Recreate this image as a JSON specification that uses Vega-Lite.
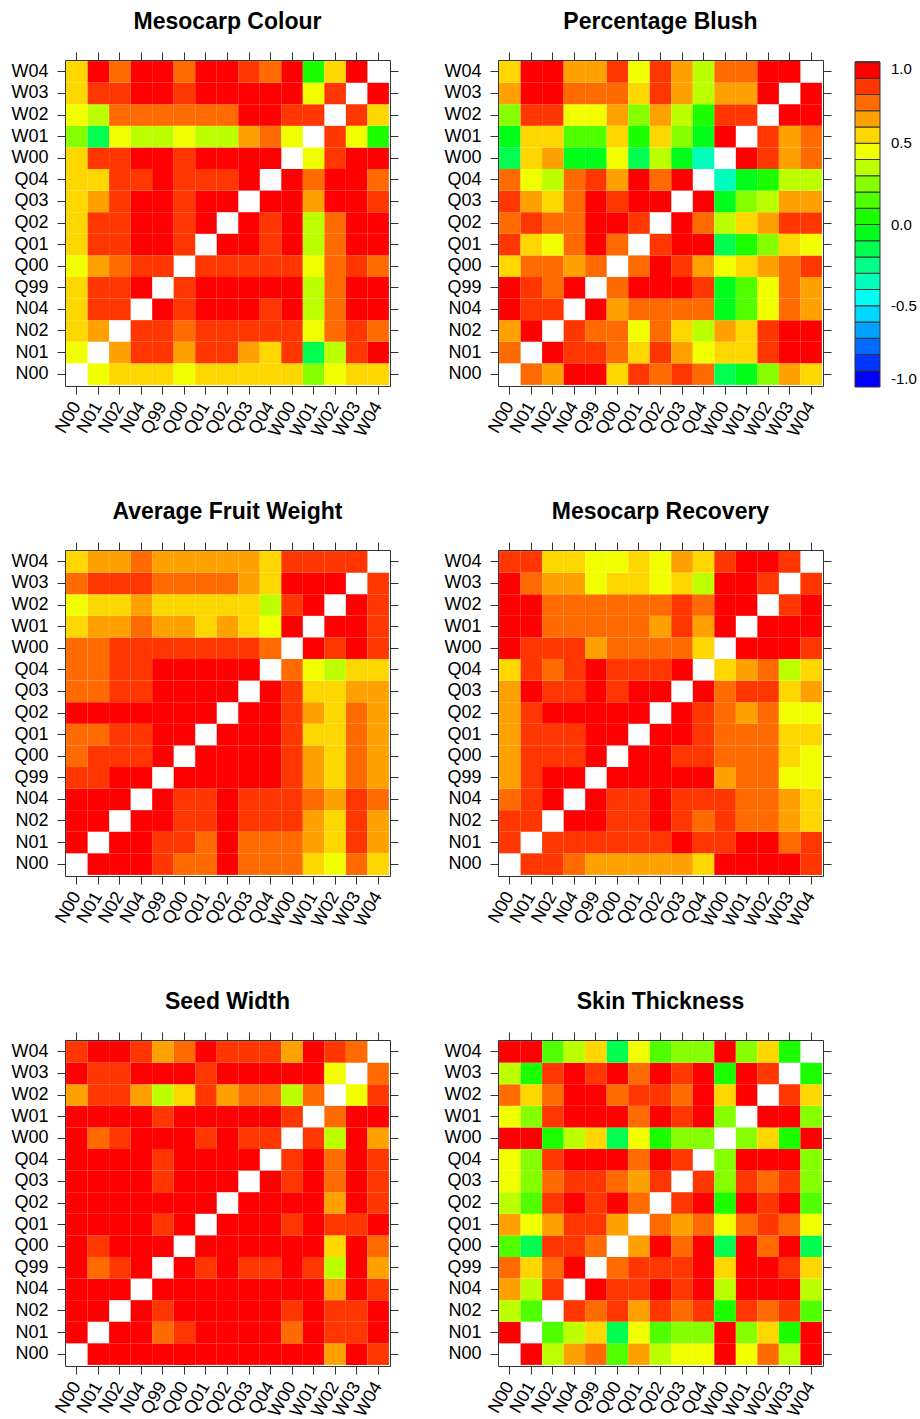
{
"$schema": "https://vega.github.io/schema/vega-lite/v6.json",
"padding": {"left": 10, "top": 10, "right": 5, "bottom": 0},
"background": "white",
"datasets": {
"mc": [
{"a":"N01","b":"N00","v":0.45},
{"a":"N02","b":"N00","v":0.55},{"a":"N02","b":"N01","v":0.65},
{"a":"N04","b":"N00","v":0.55},{"a":"N04","b":"N01","v":0.85},{"a":"N04","b":"N02","v":0.85},
{"a":"Q99","b":"N00","v":0.55},{"a":"Q99","b":"N01","v":0.85},{"a":"Q99","b":"N02","v":0.85},{"a":"Q99","b":"N04","v":0.95},
{"a":"Q00","b":"N00","v":0.45},{"a":"Q00","b":"N01","v":0.65},{"a":"Q00","b":"N02","v":0.75},{"a":"Q00","b":"N04","v":0.85},{"a":"Q00","b":"Q99","v":0.85},
{"a":"Q01","b":"N00","v":0.55},{"a":"Q01","b":"N01","v":0.85},{"a":"Q01","b":"N02","v":0.85},{"a":"Q01","b":"N04","v":0.95},{"a":"Q01","b":"Q99","v":0.95},{"a":"Q01","b":"Q00","v":0.85},
{"a":"Q02","b":"N00","v":0.55},{"a":"Q02","b":"N01","v":0.85},{"a":"Q02","b":"N02","v":0.85},{"a":"Q02","b":"N04","v":0.95},{"a":"Q02","b":"Q99","v":0.95},{"a":"Q02","b":"Q00","v":0.85},{"a":"Q02","b":"Q01","v":0.95},
{"a":"Q03","b":"N00","v":0.55},{"a":"Q03","b":"N01","v":0.65},{"a":"Q03","b":"N02","v":0.85},{"a":"Q03","b":"N04","v":0.95},{"a":"Q03","b":"Q99","v":0.95},{"a":"Q03","b":"Q00","v":0.85},{"a":"Q03","b":"Q01","v":0.95},{"a":"Q03","b":"Q02","v":0.95},
{"a":"Q04","b":"N00","v":0.55},{"a":"Q04","b":"N01","v":0.55},{"a":"Q04","b":"N02","v":0.85},{"a":"Q04","b":"N04","v":0.85},{"a":"Q04","b":"Q99","v":0.95},{"a":"Q04","b":"Q00","v":0.85},{"a":"Q04","b":"Q01","v":0.85},{"a":"Q04","b":"Q02","v":0.85},{"a":"Q04","b":"Q03","v":0.95},
{"a":"W00","b":"N00","v":0.55},{"a":"W00","b":"N01","v":0.85},{"a":"W00","b":"N02","v":0.85},{"a":"W00","b":"N04","v":0.95},{"a":"W00","b":"Q99","v":0.95},{"a":"W00","b":"Q00","v":0.85},{"a":"W00","b":"Q01","v":0.95},{"a":"W00","b":"Q02","v":0.95},{"a":"W00","b":"Q03","v":0.95},{"a":"W00","b":"Q04","v":0.95},
{"a":"W01","b":"N00","v":0.25},{"a":"W01","b":"N01","v":-0.15},{"a":"W01","b":"N02","v":0.45},{"a":"W01","b":"N04","v":0.35},{"a":"W01","b":"Q99","v":0.35},{"a":"W01","b":"Q00","v":0.45},{"a":"W01","b":"Q01","v":0.35},{"a":"W01","b":"Q02","v":0.35},{"a":"W01","b":"Q03","v":0.65},{"a":"W01","b":"Q04","v":0.75},{"a":"W01","b":"W00","v":0.45},
{"a":"W02","b":"N00","v":0.45},{"a":"W02","b":"N01","v":0.35},{"a":"W02","b":"N02","v":0.75},{"a":"W02","b":"N04","v":0.75},{"a":"W02","b":"Q99","v":0.75},{"a":"W02","b":"Q00","v":0.75},{"a":"W02","b":"Q01","v":0.75},{"a":"W02","b":"Q02","v":0.75},{"a":"W02","b":"Q03","v":0.95},{"a":"W02","b":"Q04","v":0.95},{"a":"W02","b":"W00","v":0.85},{"a":"W02","b":"W01","v":0.85},
{"a":"W03","b":"N00","v":0.55},{"a":"W03","b":"N01","v":0.85},{"a":"W03","b":"N02","v":0.85},{"a":"W03","b":"N04","v":0.95},{"a":"W03","b":"Q99","v":0.95},{"a":"W03","b":"Q00","v":0.85},{"a":"W03","b":"Q01","v":0.95},{"a":"W03","b":"Q02","v":0.95},{"a":"W03","b":"Q03","v":0.95},{"a":"W03","b":"Q04","v":0.95},{"a":"W03","b":"W00","v":0.95},{"a":"W03","b":"W01","v":0.45},{"a":"W03","b":"W02","v":0.85},
{"a":"W04","b":"N00","v":0.55},{"a":"W04","b":"N01","v":0.95},{"a":"W04","b":"N02","v":0.75},{"a":"W04","b":"N04","v":0.95},{"a":"W04","b":"Q99","v":0.95},{"a":"W04","b":"Q00","v":0.75},{"a":"W04","b":"Q01","v":0.95},{"a":"W04","b":"Q02","v":0.95},{"a":"W04","b":"Q03","v":0.85},{"a":"W04","b":"Q04","v":0.75},{"a":"W04","b":"W00","v":0.95},{"a":"W04","b":"W01","v":0.05},{"a":"W04","b":"W02","v":0.55},{"a":"W04","b":"W03","v":0.95}
],
"pb": [
{"a":"N01","b":"N00","v":0.75},
{"a":"N02","b":"N00","v":0.65},{"a":"N02","b":"N01","v":0.95},
{"a":"N04","b":"N00","v":0.95},{"a":"N04","b":"N01","v":0.85},{"a":"N04","b":"N02","v":0.85},
{"a":"Q99","b":"N00","v":0.95},{"a":"Q99","b":"N01","v":0.85},{"a":"Q99","b":"N02","v":0.75},{"a":"Q99","b":"N04","v":0.95},
{"a":"Q00","b":"N00","v":0.55},{"a":"Q00","b":"N01","v":0.75},{"a":"Q00","b":"N02","v":0.75},{"a":"Q00","b":"N04","v":0.65},{"a":"Q00","b":"Q99","v":0.75},
{"a":"Q01","b":"N00","v":0.85},{"a":"Q01","b":"N01","v":0.55},{"a":"Q01","b":"N02","v":0.45},{"a":"Q01","b":"N04","v":0.75},{"a":"Q01","b":"Q99","v":0.95},{"a":"Q01","b":"Q00","v":0.75},
{"a":"Q02","b":"N00","v":0.75},{"a":"Q02","b":"N01","v":0.85},{"a":"Q02","b":"N02","v":0.75},{"a":"Q02","b":"N04","v":0.75},{"a":"Q02","b":"Q99","v":0.95},{"a":"Q02","b":"Q00","v":0.95},{"a":"Q02","b":"Q01","v":0.85},
{"a":"Q03","b":"N00","v":0.85},{"a":"Q03","b":"N01","v":0.65},{"a":"Q03","b":"N02","v":0.55},{"a":"Q03","b":"N04","v":0.75},{"a":"Q03","b":"Q99","v":0.95},{"a":"Q03","b":"Q00","v":0.85},{"a":"Q03","b":"Q01","v":0.95},{"a":"Q03","b":"Q02","v":0.95},
{"a":"Q04","b":"N00","v":0.75},{"a":"Q04","b":"N01","v":0.45},{"a":"Q04","b":"N02","v":0.35},{"a":"Q04","b":"N04","v":0.75},{"a":"Q04","b":"Q99","v":0.85},{"a":"Q04","b":"Q00","v":0.65},{"a":"Q04","b":"Q01","v":0.95},{"a":"Q04","b":"Q02","v":0.75},{"a":"Q04","b":"Q03","v":0.95},
{"a":"W00","b":"N00","v":-0.15},{"a":"W00","b":"N01","v":0.55},{"a":"W00","b":"N02","v":0.65},{"a":"W00","b":"N04","v":-0.05},{"a":"W00","b":"Q99","v":-0.05},{"a":"W00","b":"Q00","v":0.45},{"a":"W00","b":"Q01","v":-0.15},{"a":"W00","b":"Q02","v":0.35},{"a":"W00","b":"Q03","v":-0.05},{"a":"W00","b":"Q04","v":-0.35},
{"a":"W01","b":"N00","v":-0.05},{"a":"W01","b":"N01","v":0.55},{"a":"W01","b":"N02","v":0.55},{"a":"W01","b":"N04","v":0.15},{"a":"W01","b":"Q99","v":0.15},{"a":"W01","b":"Q00","v":0.55},{"a":"W01","b":"Q01","v":0.05},{"a":"W01","b":"Q02","v":0.55},{"a":"W01","b":"Q03","v":0.25},{"a":"W01","b":"Q04","v":-0.05},{"a":"W01","b":"W00","v":0.95},
{"a":"W02","b":"N00","v":0.25},{"a":"W02","b":"N01","v":0.85},{"a":"W02","b":"N02","v":0.85},{"a":"W02","b":"N04","v":0.45},{"a":"W02","b":"Q99","v":0.45},{"a":"W02","b":"Q00","v":0.65},{"a":"W02","b":"Q01","v":0.25},{"a":"W02","b":"Q02","v":0.65},{"a":"W02","b":"Q03","v":0.35},{"a":"W02","b":"Q04","v":0.05},{"a":"W02","b":"W00","v":0.85},{"a":"W02","b":"W01","v":0.85},
{"a":"W03","b":"N00","v":0.65},{"a":"W03","b":"N01","v":0.95},{"a":"W03","b":"N02","v":0.95},{"a":"W03","b":"N04","v":0.75},{"a":"W03","b":"Q99","v":0.75},{"a":"W03","b":"Q00","v":0.75},{"a":"W03","b":"Q01","v":0.55},{"a":"W03","b":"Q02","v":0.85},{"a":"W03","b":"Q03","v":0.65},{"a":"W03","b":"Q04","v":0.35},{"a":"W03","b":"W00","v":0.65},{"a":"W03","b":"W01","v":0.65},{"a":"W03","b":"W02","v":0.95},
{"a":"W04","b":"N00","v":0.55},{"a":"W04","b":"N01","v":0.95},{"a":"W04","b":"N02","v":0.95},{"a":"W04","b":"N04","v":0.65},{"a":"W04","b":"Q99","v":0.65},{"a":"W04","b":"Q00","v":0.85},{"a":"W04","b":"Q01","v":0.45},{"a":"W04","b":"Q02","v":0.85},{"a":"W04","b":"Q03","v":0.65},{"a":"W04","b":"Q04","v":0.35},{"a":"W04","b":"W00","v":0.75},{"a":"W04","b":"W01","v":0.75},{"a":"W04","b":"W02","v":0.95},{"a":"W04","b":"W03","v":0.95}
],
"afw": [
{"a":"N01","b":"N00","v":0.95},
{"a":"N02","b":"N00","v":0.95},{"a":"N02","b":"N01","v":0.95},
{"a":"N04","b":"N00","v":0.95},{"a":"N04","b":"N01","v":0.95},{"a":"N04","b":"N02","v":0.95},
{"a":"Q99","b":"N00","v":0.85},{"a":"Q99","b":"N01","v":0.85},{"a":"Q99","b":"N02","v":0.95},{"a":"Q99","b":"N04","v":0.95},
{"a":"Q00","b":"N00","v":0.75},{"a":"Q00","b":"N01","v":0.85},{"a":"Q00","b":"N02","v":0.85},{"a":"Q00","b":"N04","v":0.85},{"a":"Q00","b":"Q99","v":0.95},
{"a":"Q01","b":"N00","v":0.75},{"a":"Q01","b":"N01","v":0.75},{"a":"Q01","b":"N02","v":0.85},{"a":"Q01","b":"N04","v":0.85},{"a":"Q01","b":"Q99","v":0.95},{"a":"Q01","b":"Q00","v":0.95},
{"a":"Q02","b":"N00","v":0.95},{"a":"Q02","b":"N01","v":0.95},{"a":"Q02","b":"N02","v":0.95},{"a":"Q02","b":"N04","v":0.95},{"a":"Q02","b":"Q99","v":0.95},{"a":"Q02","b":"Q00","v":0.95},{"a":"Q02","b":"Q01","v":0.95},
{"a":"Q03","b":"N00","v":0.75},{"a":"Q03","b":"N01","v":0.75},{"a":"Q03","b":"N02","v":0.85},{"a":"Q03","b":"N04","v":0.85},{"a":"Q03","b":"Q99","v":0.95},{"a":"Q03","b":"Q00","v":0.95},{"a":"Q03","b":"Q01","v":0.95},{"a":"Q03","b":"Q02","v":0.95},
{"a":"Q04","b":"N00","v":0.75},{"a":"Q04","b":"N01","v":0.75},{"a":"Q04","b":"N02","v":0.85},{"a":"Q04","b":"N04","v":0.85},{"a":"Q04","b":"Q99","v":0.95},{"a":"Q04","b":"Q00","v":0.95},{"a":"Q04","b":"Q01","v":0.95},{"a":"Q04","b":"Q02","v":0.95},{"a":"Q04","b":"Q03","v":0.95},
{"a":"W00","b":"N00","v":0.75},{"a":"W00","b":"N01","v":0.75},{"a":"W00","b":"N02","v":0.85},{"a":"W00","b":"N04","v":0.85},{"a":"W00","b":"Q99","v":0.85},{"a":"W00","b":"Q00","v":0.85},{"a":"W00","b":"Q01","v":0.85},{"a":"W00","b":"Q02","v":0.85},{"a":"W00","b":"Q03","v":0.85},{"a":"W00","b":"Q04","v":0.75},
{"a":"W01","b":"N00","v":0.55},{"a":"W01","b":"N01","v":0.65},{"a":"W01","b":"N02","v":0.65},{"a":"W01","b":"N04","v":0.75},{"a":"W01","b":"Q99","v":0.65},{"a":"W01","b":"Q00","v":0.65},{"a":"W01","b":"Q01","v":0.55},{"a":"W01","b":"Q02","v":0.65},{"a":"W01","b":"Q03","v":0.55},{"a":"W01","b":"Q04","v":0.45},{"a":"W01","b":"W00","v":0.95},
{"a":"W02","b":"N00","v":0.45},{"a":"W02","b":"N01","v":0.55},{"a":"W02","b":"N02","v":0.55},{"a":"W02","b":"N04","v":0.65},{"a":"W02","b":"Q99","v":0.55},{"a":"W02","b":"Q00","v":0.55},{"a":"W02","b":"Q01","v":0.55},{"a":"W02","b":"Q02","v":0.55},{"a":"W02","b":"Q03","v":0.55},{"a":"W02","b":"Q04","v":0.35},{"a":"W02","b":"W00","v":0.85},{"a":"W02","b":"W01","v":0.95},
{"a":"W03","b":"N00","v":0.75},{"a":"W03","b":"N01","v":0.85},{"a":"W03","b":"N02","v":0.85},{"a":"W03","b":"N04","v":0.85},{"a":"W03","b":"Q99","v":0.75},{"a":"W03","b":"Q00","v":0.75},{"a":"W03","b":"Q01","v":0.75},{"a":"W03","b":"Q02","v":0.75},{"a":"W03","b":"Q03","v":0.65},{"a":"W03","b":"Q04","v":0.55},{"a":"W03","b":"W00","v":0.95},{"a":"W03","b":"W01","v":0.95},{"a":"W03","b":"W02","v":0.95},
{"a":"W04","b":"N00","v":0.55},{"a":"W04","b":"N01","v":0.65},{"a":"W04","b":"N02","v":0.65},{"a":"W04","b":"N04","v":0.75},{"a":"W04","b":"Q99","v":0.65},{"a":"W04","b":"Q00","v":0.65},{"a":"W04","b":"Q01","v":0.65},{"a":"W04","b":"Q02","v":0.65},{"a":"W04","b":"Q03","v":0.65},{"a":"W04","b":"Q04","v":0.55},{"a":"W04","b":"W00","v":0.85},{"a":"W04","b":"W01","v":0.85},{"a":"W04","b":"W02","v":0.85},{"a":"W04","b":"W03","v":0.85}
],
"mr": [
{"a":"N01","b":"N00","v":0.85},
{"a":"N02","b":"N00","v":0.85},{"a":"N02","b":"N01","v":0.85},
{"a":"N04","b":"N00","v":0.75},{"a":"N04","b":"N01","v":0.85},{"a":"N04","b":"N02","v":0.95},
{"a":"Q99","b":"N00","v":0.65},{"a":"Q99","b":"N01","v":0.85},{"a":"Q99","b":"N02","v":0.95},{"a":"Q99","b":"N04","v":0.95},
{"a":"Q00","b":"N00","v":0.65},{"a":"Q00","b":"N01","v":0.85},{"a":"Q00","b":"N02","v":0.85},{"a":"Q00","b":"N04","v":0.85},{"a":"Q00","b":"Q99","v":0.95},
{"a":"Q01","b":"N00","v":0.65},{"a":"Q01","b":"N01","v":0.85},{"a":"Q01","b":"N02","v":0.85},{"a":"Q01","b":"N04","v":0.85},{"a":"Q01","b":"Q99","v":0.95},{"a":"Q01","b":"Q00","v":0.95},
{"a":"Q02","b":"N00","v":0.65},{"a":"Q02","b":"N01","v":0.85},{"a":"Q02","b":"N02","v":0.95},{"a":"Q02","b":"N04","v":0.95},{"a":"Q02","b":"Q99","v":0.95},{"a":"Q02","b":"Q00","v":0.95},{"a":"Q02","b":"Q01","v":0.95},
{"a":"Q03","b":"N00","v":0.65},{"a":"Q03","b":"N01","v":0.95},{"a":"Q03","b":"N02","v":0.85},{"a":"Q03","b":"N04","v":0.85},{"a":"Q03","b":"Q99","v":0.95},{"a":"Q03","b":"Q00","v":0.85},{"a":"Q03","b":"Q01","v":0.95},{"a":"Q03","b":"Q02","v":0.95},
{"a":"Q04","b":"N00","v":0.55},{"a":"Q04","b":"N01","v":0.85},{"a":"Q04","b":"N02","v":0.75},{"a":"Q04","b":"N04","v":0.85},{"a":"Q04","b":"Q99","v":0.95},{"a":"Q04","b":"Q00","v":0.85},{"a":"Q04","b":"Q01","v":0.85},{"a":"Q04","b":"Q02","v":0.85},{"a":"Q04","b":"Q03","v":0.95},
{"a":"W00","b":"N00","v":0.95},{"a":"W00","b":"N01","v":0.85},{"a":"W00","b":"N02","v":0.85},{"a":"W00","b":"N04","v":0.85},{"a":"W00","b":"Q99","v":0.65},{"a":"W00","b":"Q00","v":0.75},{"a":"W00","b":"Q01","v":0.75},{"a":"W00","b":"Q02","v":0.75},{"a":"W00","b":"Q03","v":0.75},{"a":"W00","b":"Q04","v":0.55},
{"a":"W01","b":"N00","v":0.95},{"a":"W01","b":"N01","v":0.95},{"a":"W01","b":"N02","v":0.75},{"a":"W01","b":"N04","v":0.75},{"a":"W01","b":"Q99","v":0.75},{"a":"W01","b":"Q00","v":0.75},{"a":"W01","b":"Q01","v":0.75},{"a":"W01","b":"Q02","v":0.65},{"a":"W01","b":"Q03","v":0.85},{"a":"W01","b":"Q04","v":0.65},{"a":"W01","b":"W00","v":0.95},
{"a":"W02","b":"N00","v":0.95},{"a":"W02","b":"N01","v":0.95},{"a":"W02","b":"N02","v":0.75},{"a":"W02","b":"N04","v":0.75},{"a":"W02","b":"Q99","v":0.75},{"a":"W02","b":"Q00","v":0.75},{"a":"W02","b":"Q01","v":0.75},{"a":"W02","b":"Q02","v":0.75},{"a":"W02","b":"Q03","v":0.85},{"a":"W02","b":"Q04","v":0.75},{"a":"W02","b":"W00","v":0.95},{"a":"W02","b":"W01","v":0.95},
{"a":"W03","b":"N00","v":0.95},{"a":"W03","b":"N01","v":0.75},{"a":"W03","b":"N02","v":0.65},{"a":"W03","b":"N04","v":0.65},{"a":"W03","b":"Q99","v":0.45},{"a":"W03","b":"Q00","v":0.55},{"a":"W03","b":"Q01","v":0.55},{"a":"W03","b":"Q02","v":0.45},{"a":"W03","b":"Q03","v":0.55},{"a":"W03","b":"Q04","v":0.35},{"a":"W03","b":"W00","v":0.95},{"a":"W03","b":"W01","v":0.95},{"a":"W03","b":"W02","v":0.85},
{"a":"W04","b":"N00","v":0.85},{"a":"W04","b":"N01","v":0.85},{"a":"W04","b":"N02","v":0.55},{"a":"W04","b":"N04","v":0.55},{"a":"W04","b":"Q99","v":0.45},{"a":"W04","b":"Q00","v":0.45},{"a":"W04","b":"Q01","v":0.55},{"a":"W04","b":"Q02","v":0.45},{"a":"W04","b":"Q03","v":0.65},{"a":"W04","b":"Q04","v":0.55},{"a":"W04","b":"W00","v":0.85},{"a":"W04","b":"W01","v":0.95},{"a":"W04","b":"W02","v":0.95},{"a":"W04","b":"W03","v":0.85}
],
"sw": [
{"a":"N01","b":"N00","v":0.95},
{"a":"N02","b":"N00","v":0.95},{"a":"N02","b":"N01","v":0.95},
{"a":"N04","b":"N00","v":0.95},{"a":"N04","b":"N01","v":0.95},{"a":"N04","b":"N02","v":0.95},
{"a":"Q99","b":"N00","v":0.95},{"a":"Q99","b":"N01","v":0.75},{"a":"Q99","b":"N02","v":0.85},{"a":"Q99","b":"N04","v":0.95},
{"a":"Q00","b":"N00","v":0.95},{"a":"Q00","b":"N01","v":0.85},{"a":"Q00","b":"N02","v":0.95},{"a":"Q00","b":"N04","v":0.95},{"a":"Q00","b":"Q99","v":0.95},
{"a":"Q01","b":"N00","v":0.95},{"a":"Q01","b":"N01","v":0.95},{"a":"Q01","b":"N02","v":0.95},{"a":"Q01","b":"N04","v":0.95},{"a":"Q01","b":"Q99","v":0.85},{"a":"Q01","b":"Q00","v":0.95},
{"a":"Q02","b":"N00","v":0.95},{"a":"Q02","b":"N01","v":0.95},{"a":"Q02","b":"N02","v":0.95},{"a":"Q02","b":"N04","v":0.95},{"a":"Q02","b":"Q99","v":0.95},{"a":"Q02","b":"Q00","v":0.95},{"a":"Q02","b":"Q01","v":0.95},
{"a":"Q03","b":"N00","v":0.95},{"a":"Q03","b":"N01","v":0.95},{"a":"Q03","b":"N02","v":0.95},{"a":"Q03","b":"N04","v":0.95},{"a":"Q03","b":"Q99","v":0.85},{"a":"Q03","b":"Q00","v":0.95},{"a":"Q03","b":"Q01","v":0.95},{"a":"Q03","b":"Q02","v":0.95},
{"a":"Q04","b":"N00","v":0.95},{"a":"Q04","b":"N01","v":0.95},{"a":"Q04","b":"N02","v":0.95},{"a":"Q04","b":"N04","v":0.95},{"a":"Q04","b":"Q99","v":0.85},{"a":"Q04","b":"Q00","v":0.95},{"a":"Q04","b":"Q01","v":0.95},{"a":"Q04","b":"Q02","v":0.95},{"a":"Q04","b":"Q03","v":0.95},
{"a":"W00","b":"N00","v":0.95},{"a":"W00","b":"N01","v":0.75},{"a":"W00","b":"N02","v":0.85},{"a":"W00","b":"N04","v":0.95},{"a":"W00","b":"Q99","v":0.95},{"a":"W00","b":"Q00","v":0.95},{"a":"W00","b":"Q01","v":0.85},{"a":"W00","b":"Q02","v":0.95},{"a":"W00","b":"Q03","v":0.85},{"a":"W00","b":"Q04","v":0.85},
{"a":"W01","b":"N00","v":0.95},{"a":"W01","b":"N01","v":0.95},{"a":"W01","b":"N02","v":0.95},{"a":"W01","b":"N04","v":0.95},{"a":"W01","b":"Q99","v":0.85},{"a":"W01","b":"Q00","v":0.95},{"a":"W01","b":"Q01","v":0.95},{"a":"W01","b":"Q02","v":0.95},{"a":"W01","b":"Q03","v":0.95},{"a":"W01","b":"Q04","v":0.95},{"a":"W01","b":"W00","v":0.85},
{"a":"W02","b":"N00","v":0.65},{"a":"W02","b":"N01","v":0.85},{"a":"W02","b":"N02","v":0.85},{"a":"W02","b":"N04","v":0.65},{"a":"W02","b":"Q99","v":0.35},{"a":"W02","b":"Q00","v":0.55},{"a":"W02","b":"Q01","v":0.85},{"a":"W02","b":"Q02","v":0.65},{"a":"W02","b":"Q03","v":0.75},{"a":"W02","b":"Q04","v":0.75},{"a":"W02","b":"W00","v":0.35},{"a":"W02","b":"W01","v":0.75},
{"a":"W03","b":"N00","v":0.95},{"a":"W03","b":"N01","v":0.85},{"a":"W03","b":"N02","v":0.85},{"a":"W03","b":"N04","v":0.95},{"a":"W03","b":"Q99","v":0.95},{"a":"W03","b":"Q00","v":0.95},{"a":"W03","b":"Q01","v":0.85},{"a":"W03","b":"Q02","v":0.95},{"a":"W03","b":"Q03","v":0.95},{"a":"W03","b":"Q04","v":0.95},{"a":"W03","b":"W00","v":0.95},{"a":"W03","b":"W01","v":0.95},{"a":"W03","b":"W02","v":0.45},
{"a":"W04","b":"N00","v":0.85},{"a":"W04","b":"N01","v":0.95},{"a":"W04","b":"N02","v":0.95},{"a":"W04","b":"N04","v":0.85},{"a":"W04","b":"Q99","v":0.65},{"a":"W04","b":"Q00","v":0.75},{"a":"W04","b":"Q01","v":0.95},{"a":"W04","b":"Q02","v":0.85},{"a":"W04","b":"Q03","v":0.85},{"a":"W04","b":"Q04","v":0.85},{"a":"W04","b":"W00","v":0.65},{"a":"W04","b":"W01","v":0.95},{"a":"W04","b":"W02","v":0.85},{"a":"W04","b":"W03","v":0.75}
],
"st": [
{"a":"N01","b":"N00","v":0.95},
{"a":"N02","b":"N00","v":0.35},{"a":"N02","b":"N01","v":0.15},
{"a":"N04","b":"N00","v":0.65},{"a":"N04","b":"N01","v":0.35},{"a":"N04","b":"N02","v":0.85},
{"a":"Q99","b":"N00","v":0.75},{"a":"Q99","b":"N01","v":0.55},{"a":"Q99","b":"N02","v":0.75},{"a":"Q99","b":"N04","v":0.95},
{"a":"Q00","b":"N00","v":0.15},{"a":"Q00","b":"N01","v":-0.15},{"a":"Q00","b":"N02","v":0.85},{"a":"Q00","b":"N04","v":0.85},{"a":"Q00","b":"Q99","v":0.75},
{"a":"Q01","b":"N00","v":0.65},{"a":"Q01","b":"N01","v":0.45},{"a":"Q01","b":"N02","v":0.65},{"a":"Q01","b":"N04","v":0.85},{"a":"Q01","b":"Q99","v":0.85},{"a":"Q01","b":"Q00","v":0.65},
{"a":"Q02","b":"N00","v":0.35},{"a":"Q02","b":"N01","v":0.15},{"a":"Q02","b":"N02","v":0.85},{"a":"Q02","b":"N04","v":0.95},{"a":"Q02","b":"Q99","v":0.85},{"a":"Q02","b":"Q00","v":0.95},{"a":"Q02","b":"Q01","v":0.75},
{"a":"Q03","b":"N00","v":0.45},{"a":"Q03","b":"N01","v":0.25},{"a":"Q03","b":"N02","v":0.75},{"a":"Q03","b":"N04","v":0.85},{"a":"Q03","b":"Q99","v":0.85},{"a":"Q03","b":"Q00","v":0.75},{"a":"Q03","b":"Q01","v":0.65},{"a":"Q03","b":"Q02","v":0.85},
{"a":"Q04","b":"N00","v":0.45},{"a":"Q04","b":"N01","v":0.25},{"a":"Q04","b":"N02","v":0.85},{"a":"Q04","b":"N04","v":0.95},{"a":"Q04","b":"Q99","v":0.95},{"a":"Q04","b":"Q00","v":0.95},{"a":"Q04","b":"Q01","v":0.75},{"a":"Q04","b":"Q02","v":0.95},{"a":"Q04","b":"Q03","v":0.85},
{"a":"W00","b":"N00","v":0.95},{"a":"W00","b":"N01","v":0.95},{"a":"W00","b":"N02","v":0.05},{"a":"W00","b":"N04","v":0.35},{"a":"W00","b":"Q99","v":0.55},{"a":"W00","b":"Q00","v":-0.15},{"a":"W00","b":"Q01","v":0.45},{"a":"W00","b":"Q02","v":0.05},{"a":"W00","b":"Q03","v":0.25},{"a":"W00","b":"Q04","v":0.25},
{"a":"W01","b":"N00","v":0.45},{"a":"W01","b":"N01","v":0.25},{"a":"W01","b":"N02","v":0.85},{"a":"W01","b":"N04","v":0.95},{"a":"W01","b":"Q99","v":0.95},{"a":"W01","b":"Q00","v":0.95},{"a":"W01","b":"Q01","v":0.75},{"a":"W01","b":"Q02","v":0.95},{"a":"W01","b":"Q03","v":0.85},{"a":"W01","b":"Q04","v":0.95},{"a":"W01","b":"W00","v":0.25},
{"a":"W02","b":"N00","v":0.75},{"a":"W02","b":"N01","v":0.55},{"a":"W02","b":"N02","v":0.75},{"a":"W02","b":"N04","v":0.95},{"a":"W02","b":"Q99","v":0.95},{"a":"W02","b":"Q00","v":0.75},{"a":"W02","b":"Q01","v":0.85},{"a":"W02","b":"Q02","v":0.85},{"a":"W02","b":"Q03","v":0.75},{"a":"W02","b":"Q04","v":0.95},{"a":"W02","b":"W00","v":0.55},{"a":"W02","b":"W01","v":0.95},
{"a":"W03","b":"N00","v":0.35},{"a":"W03","b":"N01","v":0.05},{"a":"W03","b":"N02","v":0.85},{"a":"W03","b":"N04","v":0.95},{"a":"W03","b":"Q99","v":0.85},{"a":"W03","b":"Q00","v":0.95},{"a":"W03","b":"Q01","v":0.75},{"a":"W03","b":"Q02","v":0.95},{"a":"W03","b":"Q03","v":0.85},{"a":"W03","b":"Q04","v":0.95},{"a":"W03","b":"W00","v":0.05},{"a":"W03","b":"W01","v":0.95},{"a":"W03","b":"W02","v":0.85},
{"a":"W04","b":"N00","v":0.95},{"a":"W04","b":"N01","v":0.95},{"a":"W04","b":"N02","v":0.15},{"a":"W04","b":"N04","v":0.35},{"a":"W04","b":"Q99","v":0.55},{"a":"W04","b":"Q00","v":-0.15},{"a":"W04","b":"Q01","v":0.45},{"a":"W04","b":"Q02","v":0.15},{"a":"W04","b":"Q03","v":0.25},{"a":"W04","b":"Q04","v":0.25},{"a":"W04","b":"W00","v":0.95},{"a":"W04","b":"W01","v":0.25},{"a":"W04","b":"W02","v":0.55},{"a":"W04","b":"W03","v":0.05}
]
},
"config": {
  "font": "Liberation Sans",
  "view": {"stroke": "#333333", "strokeWidth": 1},
  "title": {"font": "Liberation Sans", "fontSize": 23, "fontWeight": "bold", "color": "black", "anchor": "middle", "frame": "group", "baseline": "alphabetic", "offset": 18},
  "axis": {"labelFont": "Liberation Sans", "labelFontSize": 18, "labelColor": "black", "tickColor": "#333333", "tickSize": 8, "tickWidth": 1, "domain": false, "grid": false, "labelPadding": 9, "labelOverlap": false},
  "axisBottom": {"labelAngle": -60, "labelAlign": "right", "labelBaseline": "middle"},
  "legend": {"labelFont": "Liberation Sans"}
},
"spacing": 59,
"vconcat": [
 {"spacing": 44, "hconcat": [
  {"width": 325, "height": 326, "title": {"text": "Mesocarp Colour"}, "data": {"name": "mc"},
   "resolve": {"axis": {"x": "independent", "y": "independent"}},
   "layer": [
    {"mark": {"type": "rect"}, "encoding": {
      "x": {"field": "b", "type": "nominal", "scale": {"domain": ["N00","N01","N02","N04","Q99","Q00","Q01","Q02","Q03","Q04","W00","W01","W02","W03","W04"], "paddingInner": 0, "paddingOuter": 0.05}, "axis": {"orient": "bottom", "title": null}},
      "y": {"field": "a", "type": "nominal", "scale": {"domain": ["W04","W03","W02","W01","W00","Q04","Q03","Q02","Q01","Q00","Q99","N04","N02","N01","N00"], "paddingInner": 0, "paddingOuter": 0.05}, "axis": {"orient": "left", "title": null}},
      "color": {"field": "v", "type": "quantitative", "scale": {"type": "quantize", "domain": [-1, 1], "range": ["#0000FF","#0036FF","#006BFF","#00A1FF","#00D7FF","#00FFF2","#00FFBC","#00FF86","#00FF50","#00FF1B","#1BFF00","#50FF00","#86FF00","#BCFF00","#F2FF00","#FFD700","#FFA100","#FF6B00","#FF3600","#FF0000"]}, "legend": {"type": "gradient", "title": null, "orient": "none", "legendX": 790, "legendY": 2, "direction": "vertical", "gradientLength": 325, "gradientThickness": 25, "gradientStrokeColor": "#333333", "gradientStrokeWidth": 1, "values": [-1,-0.9,-0.8,-0.7,-0.6,-0.5,-0.4,-0.3,-0.2,-0.1,0,0.1,0.2,0.3,0.4,0.5,0.6,0.7,0.8,0.9,1], "labelFontSize": 15, "labelColor": "black", "labelOffset": 11, "labelBaseline": "middle", "labelOverlap": false, "labelExpr": "abs(datum.value * 2 - round(datum.value * 2)) < 0.001 ? (datum.value < -0.001 ? '-' + format(-datum.value, '.1f') : format(abs(datum.value), '.1f')) : ''"}}
    }},
    {"mark": {"type": "rect"}, "encoding": {
      "x": {"field": "a", "type": "nominal", "scale": {"domain": ["N00","N01","N02","N04","Q99","Q00","Q01","Q02","Q03","Q04","W00","W01","W02","W03","W04"], "paddingInner": 0, "paddingOuter": 0.05}, "axis": {"orient": "top", "labels": false, "title": null}},
      "y": {"field": "b", "type": "nominal", "scale": {"domain": ["W04","W03","W02","W01","W00","Q04","Q03","Q02","Q01","Q00","Q99","N04","N02","N01","N00"], "paddingInner": 0, "paddingOuter": 0.05}, "axis": {"orient": "right", "labels": false, "title": null}},
      "color": {"field": "v", "type": "quantitative", "scale": {"type": "quantize", "domain": [-1, 1], "range": ["#0000FF","#0036FF","#006BFF","#00A1FF","#00D7FF","#00FFF2","#00FFBC","#00FF86","#00FF50","#00FF1B","#1BFF00","#50FF00","#86FF00","#BCFF00","#F2FF00","#FFD700","#FFA100","#FF6B00","#FF3600","#FF0000"]}, "legend": {"type": "gradient", "title": null, "orient": "none", "legendX": 790, "legendY": 2, "direction": "vertical", "gradientLength": 325, "gradientThickness": 25, "gradientStrokeColor": "#333333", "gradientStrokeWidth": 1, "values": [-1,-0.9,-0.8,-0.7,-0.6,-0.5,-0.4,-0.3,-0.2,-0.1,0,0.1,0.2,0.3,0.4,0.5,0.6,0.7,0.8,0.9,1], "labelFontSize": 15, "labelColor": "black", "labelOffset": 11, "labelBaseline": "middle", "labelOverlap": false, "labelExpr": "abs(datum.value * 2 - round(datum.value * 2)) < 0.001 ? (datum.value < -0.001 ? '-' + format(-datum.value, '.1f') : format(abs(datum.value), '.1f')) : ''"}}
    }}
   ]},
  {"width": 325, "height": 326, "title": {"text": "Percentage Blush"}, "data": {"name": "pb"},
   "resolve": {"axis": {"x": "independent", "y": "independent"}},
   "layer": [
    {"mark": {"type": "rect"}, "encoding": {
      "x": {"field": "b", "type": "nominal", "scale": {"domain": ["N00","N01","N02","N04","Q99","Q00","Q01","Q02","Q03","Q04","W00","W01","W02","W03","W04"], "paddingInner": 0, "paddingOuter": 0.05}, "axis": {"orient": "bottom", "title": null}},
      "y": {"field": "a", "type": "nominal", "scale": {"domain": ["W04","W03","W02","W01","W00","Q04","Q03","Q02","Q01","Q00","Q99","N04","N02","N01","N00"], "paddingInner": 0, "paddingOuter": 0.05}, "axis": {"orient": "left", "title": null}},
      "color": {"field": "v", "type": "quantitative", "scale": {"type": "quantize", "domain": [-1, 1], "range": ["#0000FF","#0036FF","#006BFF","#00A1FF","#00D7FF","#00FFF2","#00FFBC","#00FF86","#00FF50","#00FF1B","#1BFF00","#50FF00","#86FF00","#BCFF00","#F2FF00","#FFD700","#FFA100","#FF6B00","#FF3600","#FF0000"]}, "legend": {"type": "gradient", "title": null, "orient": "none", "legendX": 790, "legendY": 2, "direction": "vertical", "gradientLength": 325, "gradientThickness": 25, "gradientStrokeColor": "#333333", "gradientStrokeWidth": 1, "values": [-1,-0.9,-0.8,-0.7,-0.6,-0.5,-0.4,-0.3,-0.2,-0.1,0,0.1,0.2,0.3,0.4,0.5,0.6,0.7,0.8,0.9,1], "labelFontSize": 15, "labelColor": "black", "labelOffset": 11, "labelBaseline": "middle", "labelOverlap": false, "labelExpr": "abs(datum.value * 2 - round(datum.value * 2)) < 0.001 ? (datum.value < -0.001 ? '-' + format(-datum.value, '.1f') : format(abs(datum.value), '.1f')) : ''"}}
    }},
    {"mark": {"type": "rect"}, "encoding": {
      "x": {"field": "a", "type": "nominal", "scale": {"domain": ["N00","N01","N02","N04","Q99","Q00","Q01","Q02","Q03","Q04","W00","W01","W02","W03","W04"], "paddingInner": 0, "paddingOuter": 0.05}, "axis": {"orient": "top", "labels": false, "title": null}},
      "y": {"field": "b", "type": "nominal", "scale": {"domain": ["W04","W03","W02","W01","W00","Q04","Q03","Q02","Q01","Q00","Q99","N04","N02","N01","N00"], "paddingInner": 0, "paddingOuter": 0.05}, "axis": {"orient": "right", "labels": false, "title": null}},
      "color": {"field": "v", "type": "quantitative", "scale": {"type": "quantize", "domain": [-1, 1], "range": ["#0000FF","#0036FF","#006BFF","#00A1FF","#00D7FF","#00FFF2","#00FFBC","#00FF86","#00FF50","#00FF1B","#1BFF00","#50FF00","#86FF00","#BCFF00","#F2FF00","#FFD700","#FFA100","#FF6B00","#FF3600","#FF0000"]}, "legend": {"type": "gradient", "title": null, "orient": "none", "legendX": 790, "legendY": 2, "direction": "vertical", "gradientLength": 325, "gradientThickness": 25, "gradientStrokeColor": "#333333", "gradientStrokeWidth": 1, "values": [-1,-0.9,-0.8,-0.7,-0.6,-0.5,-0.4,-0.3,-0.2,-0.1,0,0.1,0.2,0.3,0.4,0.5,0.6,0.7,0.8,0.9,1], "labelFontSize": 15, "labelColor": "black", "labelOffset": 11, "labelBaseline": "middle", "labelOverlap": false, "labelExpr": "abs(datum.value * 2 - round(datum.value * 2)) < 0.001 ? (datum.value < -0.001 ? '-' + format(-datum.value, '.1f') : format(abs(datum.value), '.1f')) : ''"}}
    }}
   ]}
 ]},
 {"spacing": 44, "hconcat": [
  {"width": 325, "height": 326, "title": {"text": "Average Fruit Weight"}, "data": {"name": "afw"},
   "resolve": {"axis": {"x": "independent", "y": "independent"}},
   "layer": [
    {"mark": {"type": "rect"}, "encoding": {
      "x": {"field": "b", "type": "nominal", "scale": {"domain": ["N00","N01","N02","N04","Q99","Q00","Q01","Q02","Q03","Q04","W00","W01","W02","W03","W04"], "paddingInner": 0, "paddingOuter": 0.05}, "axis": {"orient": "bottom", "title": null}},
      "y": {"field": "a", "type": "nominal", "scale": {"domain": ["W04","W03","W02","W01","W00","Q04","Q03","Q02","Q01","Q00","Q99","N04","N02","N01","N00"], "paddingInner": 0, "paddingOuter": 0.05}, "axis": {"orient": "left", "title": null}},
      "color": {"field": "v", "type": "quantitative", "scale": {"type": "quantize", "domain": [-1, 1], "range": ["#0000FF","#0036FF","#006BFF","#00A1FF","#00D7FF","#00FFF2","#00FFBC","#00FF86","#00FF50","#00FF1B","#1BFF00","#50FF00","#86FF00","#BCFF00","#F2FF00","#FFD700","#FFA100","#FF6B00","#FF3600","#FF0000"]}, "legend": {"type": "gradient", "title": null, "orient": "none", "legendX": 790, "legendY": 2, "direction": "vertical", "gradientLength": 325, "gradientThickness": 25, "gradientStrokeColor": "#333333", "gradientStrokeWidth": 1, "values": [-1,-0.9,-0.8,-0.7,-0.6,-0.5,-0.4,-0.3,-0.2,-0.1,0,0.1,0.2,0.3,0.4,0.5,0.6,0.7,0.8,0.9,1], "labelFontSize": 15, "labelColor": "black", "labelOffset": 11, "labelBaseline": "middle", "labelOverlap": false, "labelExpr": "abs(datum.value * 2 - round(datum.value * 2)) < 0.001 ? (datum.value < -0.001 ? '-' + format(-datum.value, '.1f') : format(abs(datum.value), '.1f')) : ''"}}
    }},
    {"mark": {"type": "rect"}, "encoding": {
      "x": {"field": "a", "type": "nominal", "scale": {"domain": ["N00","N01","N02","N04","Q99","Q00","Q01","Q02","Q03","Q04","W00","W01","W02","W03","W04"], "paddingInner": 0, "paddingOuter": 0.05}, "axis": {"orient": "top", "labels": false, "title": null}},
      "y": {"field": "b", "type": "nominal", "scale": {"domain": ["W04","W03","W02","W01","W00","Q04","Q03","Q02","Q01","Q00","Q99","N04","N02","N01","N00"], "paddingInner": 0, "paddingOuter": 0.05}, "axis": {"orient": "right", "labels": false, "title": null}},
      "color": {"field": "v", "type": "quantitative", "scale": {"type": "quantize", "domain": [-1, 1], "range": ["#0000FF","#0036FF","#006BFF","#00A1FF","#00D7FF","#00FFF2","#00FFBC","#00FF86","#00FF50","#00FF1B","#1BFF00","#50FF00","#86FF00","#BCFF00","#F2FF00","#FFD700","#FFA100","#FF6B00","#FF3600","#FF0000"]}, "legend": {"type": "gradient", "title": null, "orient": "none", "legendX": 790, "legendY": 2, "direction": "vertical", "gradientLength": 325, "gradientThickness": 25, "gradientStrokeColor": "#333333", "gradientStrokeWidth": 1, "values": [-1,-0.9,-0.8,-0.7,-0.6,-0.5,-0.4,-0.3,-0.2,-0.1,0,0.1,0.2,0.3,0.4,0.5,0.6,0.7,0.8,0.9,1], "labelFontSize": 15, "labelColor": "black", "labelOffset": 11, "labelBaseline": "middle", "labelOverlap": false, "labelExpr": "abs(datum.value * 2 - round(datum.value * 2)) < 0.001 ? (datum.value < -0.001 ? '-' + format(-datum.value, '.1f') : format(abs(datum.value), '.1f')) : ''"}}
    }}
   ]},
  {"width": 325, "height": 326, "title": {"text": "Mesocarp Recovery"}, "data": {"name": "mr"},
   "resolve": {"axis": {"x": "independent", "y": "independent"}},
   "layer": [
    {"mark": {"type": "rect"}, "encoding": {
      "x": {"field": "b", "type": "nominal", "scale": {"domain": ["N00","N01","N02","N04","Q99","Q00","Q01","Q02","Q03","Q04","W00","W01","W02","W03","W04"], "paddingInner": 0, "paddingOuter": 0.05}, "axis": {"orient": "bottom", "title": null}},
      "y": {"field": "a", "type": "nominal", "scale": {"domain": ["W04","W03","W02","W01","W00","Q04","Q03","Q02","Q01","Q00","Q99","N04","N02","N01","N00"], "paddingInner": 0, "paddingOuter": 0.05}, "axis": {"orient": "left", "title": null}},
      "color": {"field": "v", "type": "quantitative", "scale": {"type": "quantize", "domain": [-1, 1], "range": ["#0000FF","#0036FF","#006BFF","#00A1FF","#00D7FF","#00FFF2","#00FFBC","#00FF86","#00FF50","#00FF1B","#1BFF00","#50FF00","#86FF00","#BCFF00","#F2FF00","#FFD700","#FFA100","#FF6B00","#FF3600","#FF0000"]}, "legend": {"type": "gradient", "title": null, "orient": "none", "legendX": 790, "legendY": 2, "direction": "vertical", "gradientLength": 325, "gradientThickness": 25, "gradientStrokeColor": "#333333", "gradientStrokeWidth": 1, "values": [-1,-0.9,-0.8,-0.7,-0.6,-0.5,-0.4,-0.3,-0.2,-0.1,0,0.1,0.2,0.3,0.4,0.5,0.6,0.7,0.8,0.9,1], "labelFontSize": 15, "labelColor": "black", "labelOffset": 11, "labelBaseline": "middle", "labelOverlap": false, "labelExpr": "abs(datum.value * 2 - round(datum.value * 2)) < 0.001 ? (datum.value < -0.001 ? '-' + format(-datum.value, '.1f') : format(abs(datum.value), '.1f')) : ''"}}
    }},
    {"mark": {"type": "rect"}, "encoding": {
      "x": {"field": "a", "type": "nominal", "scale": {"domain": ["N00","N01","N02","N04","Q99","Q00","Q01","Q02","Q03","Q04","W00","W01","W02","W03","W04"], "paddingInner": 0, "paddingOuter": 0.05}, "axis": {"orient": "top", "labels": false, "title": null}},
      "y": {"field": "b", "type": "nominal", "scale": {"domain": ["W04","W03","W02","W01","W00","Q04","Q03","Q02","Q01","Q00","Q99","N04","N02","N01","N00"], "paddingInner": 0, "paddingOuter": 0.05}, "axis": {"orient": "right", "labels": false, "title": null}},
      "color": {"field": "v", "type": "quantitative", "scale": {"type": "quantize", "domain": [-1, 1], "range": ["#0000FF","#0036FF","#006BFF","#00A1FF","#00D7FF","#00FFF2","#00FFBC","#00FF86","#00FF50","#00FF1B","#1BFF00","#50FF00","#86FF00","#BCFF00","#F2FF00","#FFD700","#FFA100","#FF6B00","#FF3600","#FF0000"]}, "legend": {"type": "gradient", "title": null, "orient": "none", "legendX": 790, "legendY": 2, "direction": "vertical", "gradientLength": 325, "gradientThickness": 25, "gradientStrokeColor": "#333333", "gradientStrokeWidth": 1, "values": [-1,-0.9,-0.8,-0.7,-0.6,-0.5,-0.4,-0.3,-0.2,-0.1,0,0.1,0.2,0.3,0.4,0.5,0.6,0.7,0.8,0.9,1], "labelFontSize": 15, "labelColor": "black", "labelOffset": 11, "labelBaseline": "middle", "labelOverlap": false, "labelExpr": "abs(datum.value * 2 - round(datum.value * 2)) < 0.001 ? (datum.value < -0.001 ? '-' + format(-datum.value, '.1f') : format(abs(datum.value), '.1f')) : ''"}}
    }}
   ]}
 ]},
 {"spacing": 44, "hconcat": [
  {"width": 325, "height": 326, "title": {"text": "Seed Width"}, "data": {"name": "sw"},
   "resolve": {"axis": {"x": "independent", "y": "independent"}},
   "layer": [
    {"mark": {"type": "rect"}, "encoding": {
      "x": {"field": "b", "type": "nominal", "scale": {"domain": ["N00","N01","N02","N04","Q99","Q00","Q01","Q02","Q03","Q04","W00","W01","W02","W03","W04"], "paddingInner": 0, "paddingOuter": 0.05}, "axis": {"orient": "bottom", "title": null}},
      "y": {"field": "a", "type": "nominal", "scale": {"domain": ["W04","W03","W02","W01","W00","Q04","Q03","Q02","Q01","Q00","Q99","N04","N02","N01","N00"], "paddingInner": 0, "paddingOuter": 0.05}, "axis": {"orient": "left", "title": null}},
      "color": {"field": "v", "type": "quantitative", "scale": {"type": "quantize", "domain": [-1, 1], "range": ["#0000FF","#0036FF","#006BFF","#00A1FF","#00D7FF","#00FFF2","#00FFBC","#00FF86","#00FF50","#00FF1B","#1BFF00","#50FF00","#86FF00","#BCFF00","#F2FF00","#FFD700","#FFA100","#FF6B00","#FF3600","#FF0000"]}, "legend": {"type": "gradient", "title": null, "orient": "none", "legendX": 790, "legendY": 2, "direction": "vertical", "gradientLength": 325, "gradientThickness": 25, "gradientStrokeColor": "#333333", "gradientStrokeWidth": 1, "values": [-1,-0.9,-0.8,-0.7,-0.6,-0.5,-0.4,-0.3,-0.2,-0.1,0,0.1,0.2,0.3,0.4,0.5,0.6,0.7,0.8,0.9,1], "labelFontSize": 15, "labelColor": "black", "labelOffset": 11, "labelBaseline": "middle", "labelOverlap": false, "labelExpr": "abs(datum.value * 2 - round(datum.value * 2)) < 0.001 ? (datum.value < -0.001 ? '-' + format(-datum.value, '.1f') : format(abs(datum.value), '.1f')) : ''"}}
    }},
    {"mark": {"type": "rect"}, "encoding": {
      "x": {"field": "a", "type": "nominal", "scale": {"domain": ["N00","N01","N02","N04","Q99","Q00","Q01","Q02","Q03","Q04","W00","W01","W02","W03","W04"], "paddingInner": 0, "paddingOuter": 0.05}, "axis": {"orient": "top", "labels": false, "title": null}},
      "y": {"field": "b", "type": "nominal", "scale": {"domain": ["W04","W03","W02","W01","W00","Q04","Q03","Q02","Q01","Q00","Q99","N04","N02","N01","N00"], "paddingInner": 0, "paddingOuter": 0.05}, "axis": {"orient": "right", "labels": false, "title": null}},
      "color": {"field": "v", "type": "quantitative", "scale": {"type": "quantize", "domain": [-1, 1], "range": ["#0000FF","#0036FF","#006BFF","#00A1FF","#00D7FF","#00FFF2","#00FFBC","#00FF86","#00FF50","#00FF1B","#1BFF00","#50FF00","#86FF00","#BCFF00","#F2FF00","#FFD700","#FFA100","#FF6B00","#FF3600","#FF0000"]}, "legend": {"type": "gradient", "title": null, "orient": "none", "legendX": 790, "legendY": 2, "direction": "vertical", "gradientLength": 325, "gradientThickness": 25, "gradientStrokeColor": "#333333", "gradientStrokeWidth": 1, "values": [-1,-0.9,-0.8,-0.7,-0.6,-0.5,-0.4,-0.3,-0.2,-0.1,0,0.1,0.2,0.3,0.4,0.5,0.6,0.7,0.8,0.9,1], "labelFontSize": 15, "labelColor": "black", "labelOffset": 11, "labelBaseline": "middle", "labelOverlap": false, "labelExpr": "abs(datum.value * 2 - round(datum.value * 2)) < 0.001 ? (datum.value < -0.001 ? '-' + format(-datum.value, '.1f') : format(abs(datum.value), '.1f')) : ''"}}
    }}
   ]},
  {"width": 325, "height": 326, "title": {"text": "Skin Thickness"}, "data": {"name": "st"},
   "resolve": {"axis": {"x": "independent", "y": "independent"}},
   "layer": [
    {"mark": {"type": "rect"}, "encoding": {
      "x": {"field": "b", "type": "nominal", "scale": {"domain": ["N00","N01","N02","N04","Q99","Q00","Q01","Q02","Q03","Q04","W00","W01","W02","W03","W04"], "paddingInner": 0, "paddingOuter": 0.05}, "axis": {"orient": "bottom", "title": null}},
      "y": {"field": "a", "type": "nominal", "scale": {"domain": ["W04","W03","W02","W01","W00","Q04","Q03","Q02","Q01","Q00","Q99","N04","N02","N01","N00"], "paddingInner": 0, "paddingOuter": 0.05}, "axis": {"orient": "left", "title": null}},
      "color": {"field": "v", "type": "quantitative", "scale": {"type": "quantize", "domain": [-1, 1], "range": ["#0000FF","#0036FF","#006BFF","#00A1FF","#00D7FF","#00FFF2","#00FFBC","#00FF86","#00FF50","#00FF1B","#1BFF00","#50FF00","#86FF00","#BCFF00","#F2FF00","#FFD700","#FFA100","#FF6B00","#FF3600","#FF0000"]}, "legend": {"type": "gradient", "title": null, "orient": "none", "legendX": 790, "legendY": 2, "direction": "vertical", "gradientLength": 325, "gradientThickness": 25, "gradientStrokeColor": "#333333", "gradientStrokeWidth": 1, "values": [-1,-0.9,-0.8,-0.7,-0.6,-0.5,-0.4,-0.3,-0.2,-0.1,0,0.1,0.2,0.3,0.4,0.5,0.6,0.7,0.8,0.9,1], "labelFontSize": 15, "labelColor": "black", "labelOffset": 11, "labelBaseline": "middle", "labelOverlap": false, "labelExpr": "abs(datum.value * 2 - round(datum.value * 2)) < 0.001 ? (datum.value < -0.001 ? '-' + format(-datum.value, '.1f') : format(abs(datum.value), '.1f')) : ''"}}
    }},
    {"mark": {"type": "rect"}, "encoding": {
      "x": {"field": "a", "type": "nominal", "scale": {"domain": ["N00","N01","N02","N04","Q99","Q00","Q01","Q02","Q03","Q04","W00","W01","W02","W03","W04"], "paddingInner": 0, "paddingOuter": 0.05}, "axis": {"orient": "top", "labels": false, "title": null}},
      "y": {"field": "b", "type": "nominal", "scale": {"domain": ["W04","W03","W02","W01","W00","Q04","Q03","Q02","Q01","Q00","Q99","N04","N02","N01","N00"], "paddingInner": 0, "paddingOuter": 0.05}, "axis": {"orient": "right", "labels": false, "title": null}},
      "color": {"field": "v", "type": "quantitative", "scale": {"type": "quantize", "domain": [-1, 1], "range": ["#0000FF","#0036FF","#006BFF","#00A1FF","#00D7FF","#00FFF2","#00FFBC","#00FF86","#00FF50","#00FF1B","#1BFF00","#50FF00","#86FF00","#BCFF00","#F2FF00","#FFD700","#FFA100","#FF6B00","#FF3600","#FF0000"]}, "legend": {"type": "gradient", "title": null, "orient": "none", "legendX": 790, "legendY": 2, "direction": "vertical", "gradientLength": 325, "gradientThickness": 25, "gradientStrokeColor": "#333333", "gradientStrokeWidth": 1, "values": [-1,-0.9,-0.8,-0.7,-0.6,-0.5,-0.4,-0.3,-0.2,-0.1,0,0.1,0.2,0.3,0.4,0.5,0.6,0.7,0.8,0.9,1], "labelFontSize": 15, "labelColor": "black", "labelOffset": 11, "labelBaseline": "middle", "labelOverlap": false, "labelExpr": "abs(datum.value * 2 - round(datum.value * 2)) < 0.001 ? (datum.value < -0.001 ? '-' + format(-datum.value, '.1f') : format(abs(datum.value), '.1f')) : ''"}}
    }}
   ]}
 ]}
]
}
